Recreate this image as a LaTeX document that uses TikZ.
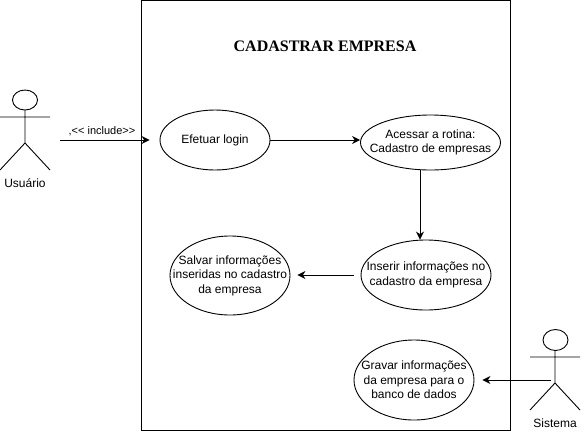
\documentclass[tikz,border=0pt]{standalone}
\usepackage{fontspec}
\setmainfont{Liberation Sans}
\newfontfamily\titlefont{Liberation Serif}
\usetikzlibrary{arrows.meta, shapes.geometric}

\tikzset{
  usecase/.style={draw, ellipse, inner sep=0pt},
  usetext/.style={align=center, inner sep=0pt, font=\fontsize{12}{14.5}\selectfont},
  actorlabel/.style={font=\fontsize{12}{16}\selectfont},
  link/.style={-{Stealth[length=8pt,width=8pt]}, line width=1pt},
}

\begin{document}
\begin{tikzpicture}[x=1pt, y=-1pt, line width=0.9pt]
        \useasboundingbox (0,0) rectangle (581,432);
        \node[draw, minimum width=369pt, minimum height=430pt, inner sep=0pt] (Box) at (325.5,215) {};
        \node[font=\titlefont\bfseries\fontsize{16}{18}\selectfont] (Title) at (325,46) {CADASTRAR EMPRESA};

        \node[usecase, minimum width=110pt, minimum height=60pt, label={[usetext]center:Efetuar login}]  (U0)  at (215,140) {};
        \node[usecase, minimum width=140pt, minimum height=55pt, label={[usetext]center:Acessar a rotina:\\Cadastro de empresas}]  (U1)  at (430.5,142.5) {};
        \node[usecase, minimum width=130pt, minimum height=70pt, label={[usetext]center:Inserir informações no\\cadastro da empresa}]  (U2)  at (426,275) {};
        \node[usecase, minimum width=120pt, minimum height=79pt, label={[usetext]center:Salvar informações\\inseridas no cadastro\\da empresa}]  (U3)  at (230,275.5) {};
        \node[usecase, minimum width=120pt, minimum height=80pt, label={[usetext]center:Gravar informações\\da empresa para o\\banco de dados}]  (U4)  at (414,380) {};

        % actors
        \node[minimum width=50pt, minimum height=80pt, inner sep=0pt] (Usuario) at (25,130) {};
        \draw (25,100) ellipse (12.5pt and 10pt);
        \draw (25,110) -- (25,143) (0,117) -- (50,117) (0,170) -- (25,143) -- (50,170);
        \node[actorlabel] (UsuarioLabel) at (25,183) {Usuário};

        \node[minimum width=50pt, minimum height=80pt, inner sep=0pt] (Sistema) at (555,370) {};
        \draw (555.5,340) ellipse (12.5pt and 10.5pt);
        \draw (555,350) -- (555,383) (530,357) -- (580,357) (530,410) -- (555,383) -- (580,410);
        \node[actorlabel] (SistemaLabel) at (555,423) {Sistema};

        \draw[link, shorten <=10pt, shorten >=10pt] (Usuario.east |- U0) -- (U0.west);
        \node[font=\fontsize{11}{12}\selectfont] (Include) at (102,131) {,{<}{<} include{>}{>}};
        \draw[link] (U0.east) -- (U1.west |- U0.east);
        \draw[link] ([xshift=-10.5pt]U1.south) -- ([xshift=-6pt]U2.north);
        \draw[link, shorten >=7pt, shorten <=7pt] (U2.west) -- (U3.east |- U2.west);
        \draw[link, shorten >=8pt, shorten <=-21pt] (Sistema.west |- U4.east) -- (U4.east);
      \end{tikzpicture}
\end{document}
